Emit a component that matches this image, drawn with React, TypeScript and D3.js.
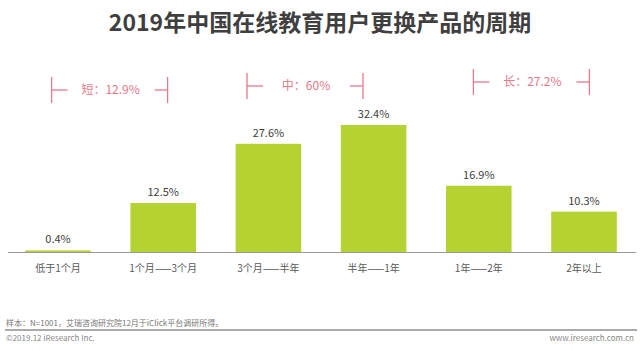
import React from "react";
import * as d3 from "d3";

const categories = ["低于1个月", "1个月——3个月", "3个月——半年", "半年——1年", "1年——2年", "2年以上"];
const values = [0.4, 12.5, 27.6, 32.4, 16.9, 10.3];
const groupLabels = ["短：12.9%", "中：60%", "长：27.2%"];
const groupRanges = [[0, 1], [2, 3], [4, 5]];

const width = 640;
const height = 351;
const baseY = 252;
const font = "'Noto Sans CJK SC', 'Noto Sans', sans-serif";
const barColor = "#b4d232";
const pink = "#e8788a";

// bracket tweaks
const bracketShift = [-1, -16, 0];
const bracketY = [90, 86, 82];

export default function App() {
  const x = d3
    .scaleBand<string>()
    .domain(categories)
    .range([5.4, 636.6])
    .paddingInner(0.377)
    .paddingOuter(0.1885);
  const y = d3.scaleLinear().domain([0, 35]).range([baseY, baseY - 35 * 3.92]);
  const bw = x.bandwidth();

  return (
    <svg
      width={width}
      height={height}
      style={{ position: "absolute", left: 0, top: 0, background: "#fff" }}
      fontFamily={font}
    >
      <text x={320} y={31} textAnchor="middle" fontSize={23} fontWeight="bold" fill="#3f3f3f">
        2019年中国在线教育用户更换产品的周期
      </text>

      {groupLabels.map((label, i) => {
        const [a, b] = groupRanges[i];
        const cx = ((x(categories[a])! + x(categories[b])! + bw) / 2) + bracketShift[i];
        const half = 58;
        const l = cx - half;
        const r = cx + half;
        const cy = bracketY[i];
        return (
          <g key={label} stroke={pink} strokeWidth={1.3}>
            <line x1={l} x2={l} y1={cy - 13} y2={cy + 13} />
            <line x1={l} x2={l + 16} y1={cy} y2={cy} />
            <line x1={r} x2={r} y1={cy - 13} y2={cy + 13} />
            <line x1={r - 13} x2={r} y1={cy} y2={cy} />
            <text
              x={cx + 1}
              y={cy + 4}
              textAnchor="middle"
              fontSize={12}
              fill={pink}
              stroke="none"
            >
              {label}
            </text>
          </g>
        );
      })}

      {categories.map((c, i) => (
        <g key={c}>
          <rect x={x(c)} y={y(values[i])} width={bw} height={baseY - y(values[i])} fill={barColor} />
          <text
            x={x(c)! + bw / 2}
            y={y(values[i]) - 7}
            textAnchor="middle"
            fontSize={11}
            fill="#404040"
          >
            {values[i].toFixed(1)}%
          </text>
          <text x={x(c)! + bw / 2} y={272} textAnchor="middle" fontSize={10} fill="#595959">
            {c}
          </text>
        </g>
      ))}

      <line x1={8} x2={636} y1={baseY + 0.5} y2={baseY + 0.5} stroke="#999" strokeWidth={1} />

      <text x={6} y={325.5} fontSize={8} fill="#777">
        样本：N=1001，艾瑞咨询研究院12月于iClick平台调研所得。
      </text>
      <line x1={5} x2={637} y1={330} y2={330} stroke="#aaa" strokeWidth={2} />
      <text x={6} y={341} fontSize={8} fill="#888">
        ©2019.12 iResearch Inc.
      </text>
      <text x={634} y={341} textAnchor="end" fontSize={8} fill="#888">
        www.iresearch.com.cn
      </text>
    </svg>
  );
}
